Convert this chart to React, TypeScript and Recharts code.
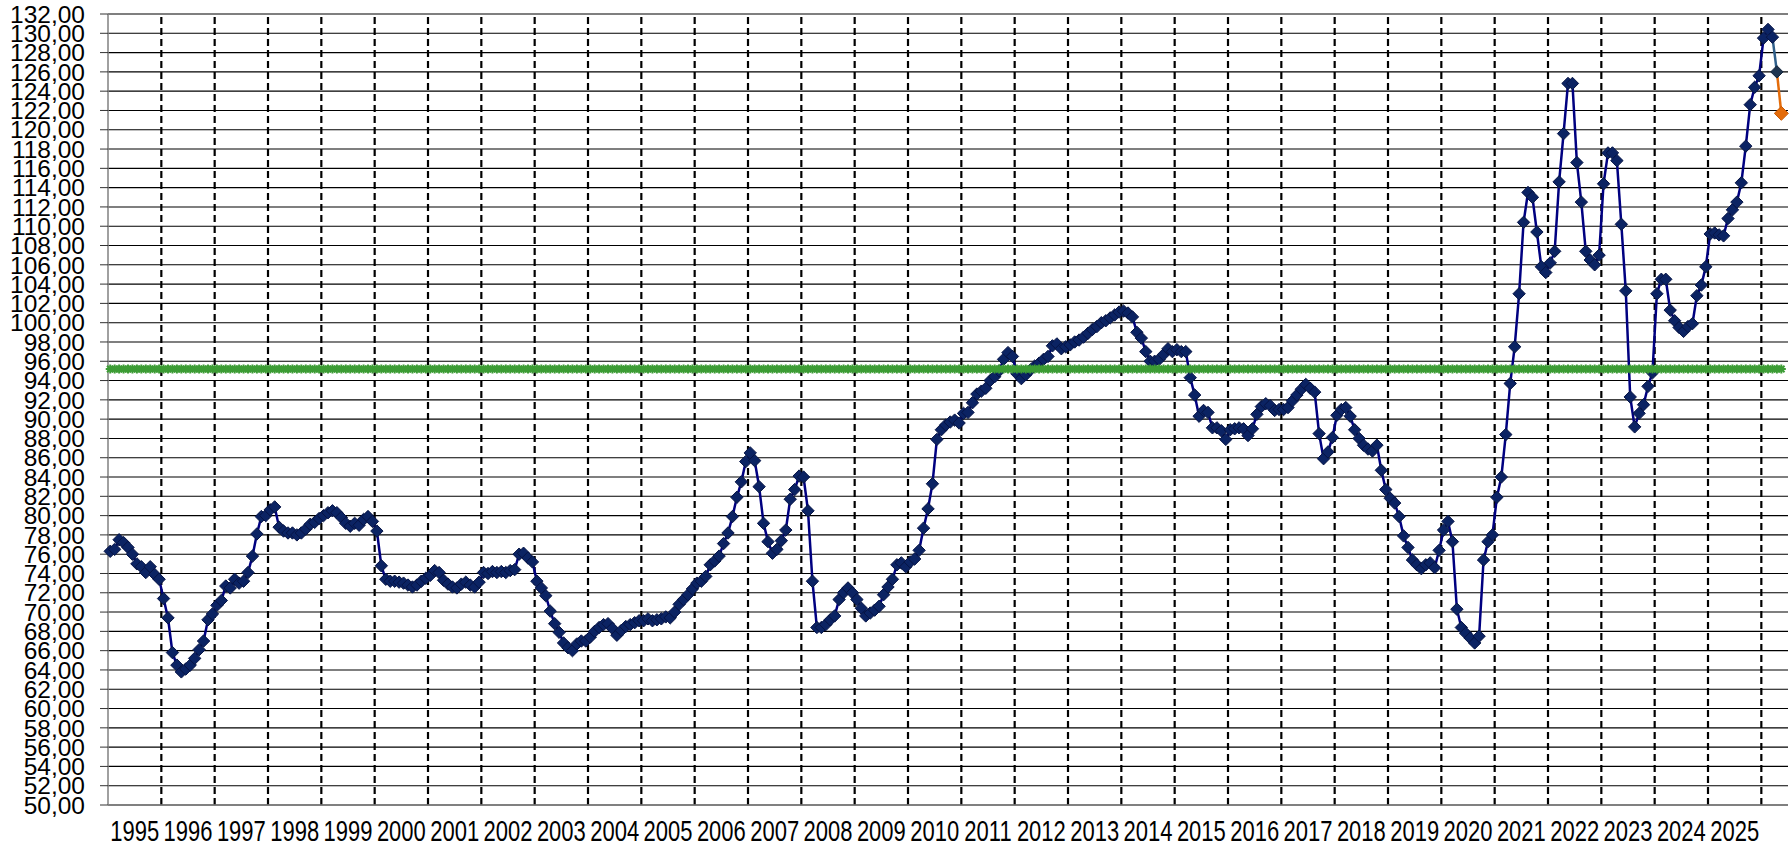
import React from 'react'
import { LineChart, Line, XAxis, YAxis, CartesianGrid, ReferenceLine } from 'recharts'

const FONT = '"Liberation Sans", Arial, sans-serif'

// year labels, one per block of 12 monthly points
const YEARS = [
  1995, 1996, 1997, 1998, 1999, 2000, 2001, 2002, 2003, 2004, 2005,
  2006, 2007, 2008, 2009, 2010, 2011, 2012, 2013, 2014, 2015, 2016,
  2017, 2018, 2019, 2020, 2021, 2022, 2023, 2024, 2025,
]

const Y_TICKS = [
  50, 52, 54, 56, 58, 60, 62, 64, 66, 68, 70, 72, 74, 76, 78, 80, 82, 84, 86, 88, 90,
  92, 94, 96, 98, 100, 102, 104, 106, 108, 110, 112, 114, 116, 118, 120, 122, 124,
  126, 128, 130, 132,
]

// monthly index, one row per year
const MONTHLY = [
  76.3, 76.5, 77.5, 77.2, 76.7, 76.0, 75.0, 74.7, 74.1, 74.7, 73.9, 73.4,
  71.4, 69.4, 65.8, 64.5, 63.8, 64.1, 64.5, 65.2, 66.1, 67.0, 69.2, 69.8,
  70.7, 71.2, 72.7, 72.5, 73.4, 73.0, 73.2, 74.1, 75.8, 78.1, 79.9, 80.0,
  80.6, 80.9, 78.8, 78.4, 78.2, 78.2, 78.0, 78.2, 78.6, 79.1, 79.3, 79.7,
  80.0, 80.3, 80.5, 80.3, 79.8, 79.2, 78.9, 79.2, 79.0, 79.6, 79.9, 79.4,
  78.4, 74.8, 73.4, 73.2, 73.2, 73.1, 73.0, 72.8, 72.6, 72.8, 73.2, 73.5,
  73.8, 74.3, 74.1, 73.3, 72.9, 72.6, 72.5, 72.9, 73.1, 72.8, 72.6, 73.1,
  74.1, 74.0, 74.2, 74.1, 74.2, 74.1, 74.3, 74.4, 76.0, 76.1, 75.6, 75.2,
  73.2, 72.5, 71.7, 70.1, 68.8, 67.9, 66.8, 66.3, 66.0, 66.7, 67.0, 67.0,
  67.4, 68.0, 68.4, 68.7, 68.8, 68.3, 67.6, 68.1, 68.5, 68.7, 68.9, 69.1,
  69.1, 69.3, 69.1, 69.2, 69.3, 69.5, 69.4, 70.0, 70.8, 71.3, 71.8, 72.4,
  73.0, 73.2, 73.7, 74.9, 75.3, 75.8, 77.1, 78.2, 79.9, 81.9, 83.5, 85.6,
  86.5, 85.7, 83.0, 79.2, 77.3, 76.1, 76.5, 77.4, 78.5, 81.7, 82.7, 84.1,
  84.0, 80.5, 73.2, 68.4, 68.4, 68.7, 69.2, 69.6, 71.3, 72.0, 72.5, 72.0,
  71.3, 70.4, 69.6, 69.9, 70.2, 70.6, 71.8, 72.6, 73.4, 74.9, 75.1, 74.7,
  75.2, 75.5, 76.4, 78.7, 80.7, 83.3, 87.9, 88.9, 89.4, 89.7, 89.9, 89.6,
  90.6, 90.7, 91.7, 92.6, 92.9, 93.2, 94.0, 94.4, 95.0, 96.2, 96.9, 96.5,
  94.7, 94.2, 94.6, 95.1, 95.5, 95.8, 96.2, 96.5, 97.6, 97.8, 97.3, 97.5,
  97.7, 98.0, 98.2, 98.5, 98.9, 99.3, 99.6, 100.0, 100.2, 100.5, 100.8, 101.1,
  101.2, 101.0, 100.6, 99.0, 98.4, 97.0, 96.0, 96.0, 96.2, 96.7, 97.3, 97.0,
  97.2, 97.0, 97.0, 94.3, 92.5, 90.3, 90.9, 90.7, 89.1, 89.1, 88.8, 87.9,
  88.9, 89.0, 89.1, 89.0, 88.3, 89.0, 90.5, 91.3, 91.6, 91.4, 90.9, 91.0,
  91.0, 91.2, 91.9, 92.5, 93.1, 93.6, 93.2, 92.8, 88.5, 85.9, 86.6, 88.1,
  90.4, 91.0, 91.2, 90.3, 88.9, 88.0, 87.3, 86.9, 86.7, 87.3, 84.7, 82.7,
  81.8, 81.3, 79.9, 77.9, 76.7, 75.4, 74.9, 74.5, 74.9, 75.1, 74.6, 76.4,
  78.5, 79.4, 77.3, 70.3, 68.4, 67.8, 67.3, 66.8, 67.5, 75.4, 77.3, 78.0,
  81.9, 84.0, 88.4, 93.7, 97.5, 103.0, 110.4, 113.5, 113.0, 109.4, 105.8, 105.2,
  106.2, 107.4, 114.6, 119.6, 124.8, 124.8, 116.6, 112.5, 107.4, 106.5, 106.0, 107.0,
  114.4, 117.6, 117.6, 116.8, 110.2, 103.3, 92.3, 89.2, 90.6, 91.5, 93.4, 94.8,
  103.0, 104.5, 104.5, 101.3, 100.2, 99.5, 99.1, 99.6, 99.9, 102.8, 103.9, 105.8,
  109.2, 109.3, 109.1, 109.0, 110.8, 111.7, 112.5, 114.5, 118.3, 122.6, 124.4, 125.6,
  129.5, 130.4, 129.6,
]

const LATEST = [129.6, 126.0]   // steel-blue step after the last regular point
const FORECAST = [126.0, 121.7] // orange step
const TARGET = 95.2

const n = MONTHLY.length
const data = Array.from({ length: n + 2 }, (_, i) => ({
  t: i + 0.5,
  v: i < n ? MONTHLY[i] : undefined,
  s: i >= n - 1 && i <= n ? LATEST[i - (n - 1)] : undefined,
  f: i >= n ? FORECAST[i - n] : undefined,
  g: TARGET,
}))

const yearEdges = YEARS.map((_, k) => 12 * k)
const yearMids = YEARS.map((_, k) => 12 * k + 6)
const X_MAX = 12 * YEARS.length + 6

const diamond = (r: number, fill: string, stroke: string, only?: number) => (p: any) => {
  const { cx, cy, index, value } = p
  if (cx == null || cy == null || value == null || (only != null && index !== only)) return <g key={index} />
  return (
    <path key={index} d={`M${cx},${cy - r}L${cx + r},${cy}L${cx},${cy + r}L${cx - r},${cy}Z`}
      fill={fill} stroke={stroke} strokeWidth={1} />
  )
}

const star = (p: any) => {
  const { cx, cy, index } = p
  if (cx == null || cy == null) return <g key={index} />
  const r = 4.5, d = 3.2
  return (
    <path key={index} stroke="#3c9c34" strokeWidth={2} fill="none"
      d={`M${cx - r},${cy}L${cx + r},${cy}M${cx},${cy - r}L${cx},${cy + r}M${cx - d},${cy - d}L${cx + d},${cy + d}M${cx - d},${cy + d}L${cx + d},${cy - d}`} />
  )
}

// year label: tall, tightly set digits as in the source chart
const YearTick = (p: any) => {
  const { x, y, payload } = p
  return (
    <text transform={`translate(${x},${y}) scale(1,1.3)`} textAnchor="middle" dy="0.72em"
      fontSize={22} fontFamily={FONT} fill="#000">
      {YEARS[Math.floor(payload.value / 12)]}
    </text>
  )
}

export default function App() {
  return (
    <div style={{ position: 'absolute', left: 0, top: 0, width: 1792, height: 848, background: '#fff' }}>
      <LineChart width={1792} height={848} data={data} margin={{ top: 14, right: 4, left: 0, bottom: 0 }}>
        <CartesianGrid vertical={false} stroke="#000" strokeWidth={1.1} />
        <YAxis domain={[50, 132]} ticks={Y_TICKS} interval={0} width={108}
          tickFormatter={v => v.toFixed(2).replace('.', ',')}
          tick={{ fill: '#000', fontSize: 24.5, fontFamily: FONT }}
          tickSize={8} tickMargin={15}
          axisLine={{ stroke: '#808080', strokeWidth: 1.5 }} tickLine={{ stroke: '#333' }} />
        <XAxis dataKey="t" type="number" domain={[0, X_MAX]} ticks={yearEdges} interval={0}
          tick={false} height={8} tickSize={5}
          axisLine={{ stroke: '#808080', strokeWidth: 1.5 }} tickLine={{ stroke: '#000', strokeWidth: 2 }} />
        <XAxis xAxisId="lab" dataKey="t" type="number" domain={[0, X_MAX]} ticks={yearMids} interval={0}
          height={35} tickSize={0} tickMargin={7} axisLine={false} tickLine={false}
          tick={<YearTick />} />
        {yearEdges.slice(1).concat([12 * YEARS.length]).map(x => (
          <ReferenceLine key={x} x={x} stroke="#000" strokeWidth={2.2} strokeDasharray="7 4" />
        ))}
        <Line dataKey="v" stroke="#000080" strokeWidth={2.5} isAnimationActive={false}
          dot={diamond(6.2, '#0b2363', '#061445')} activeDot={false} />
        <Line dataKey="s" stroke="#2f5f8a" strokeWidth={2.5} isAnimationActive={false}
          dot={diamond(6.2, '#1f3550', '#12233a', n)} activeDot={false} />
        <Line dataKey="f" stroke="#e46c0a" strokeWidth={2.5} isAnimationActive={false}
          dot={diamond(7, '#e46c0a', '#c85a05', n + 1)} activeDot={false} />
        <Line dataKey="g" stroke="#3c9c34" strokeWidth={3} isAnimationActive={false}
          dot={star} activeDot={false} />
      </LineChart>
    </div>
  )
}
